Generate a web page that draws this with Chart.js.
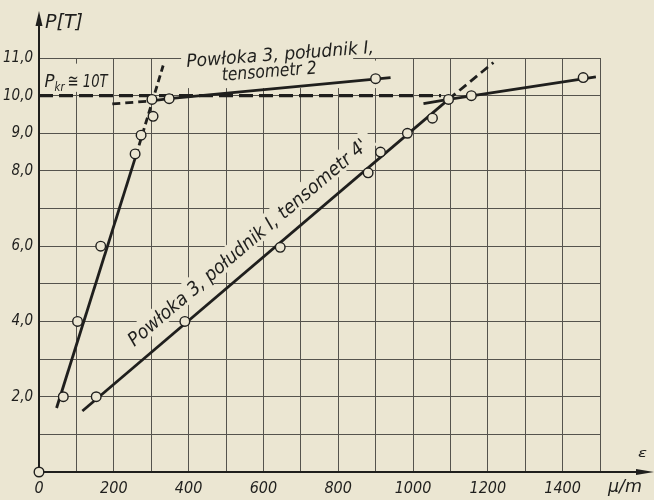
<!DOCTYPE html>
<html>
<head>
<meta charset="utf-8">
<script src="https://cdn.jsdelivr.net/npm/chart.js@4.4.1/dist/chart.umd.min.js"></script>
<style>
  html, body { margin: 0; padding: 0; background: #ebe6d2; }
  canvas { display: block; }
</style>
</head>
<body>
<canvas id="chart" width="654" height="500"></canvas>
<script>
const t2X = [0, 65, 103, 165, 257, 273, 305, 302, 348, 900];
const t2Y = [0, 2.0, 4.0, 6.0, 8.45, 8.95, 9.45, 9.9, 9.92, 10.45];
const t4X = [153, 390, 645, 880, 913, 985, 1052, 1095, 1156, 1455];
const t4Y = [2.0, 4.0, 5.97, 7.95, 8.5, 9.0, 9.4, 9.9, 10.0, 10.48];

// hand drawn fit lines (end points)
const t2SteepX = [47, 259, 332];
const t2SteepY = [1.7, 8.4, 10.8];
const t2FlatX = [196, 300, 348, 940];
const t2FlatY = [9.78, 9.86, 9.92, 10.48];
const t4SteepX = [116, 1095, 1215];
const t4SteepY = [1.62, 9.9, 10.88];
const t4FlatX = [1028, 1095, 1489];
const t4FlatY = [9.79, 9.9, 10.5];
const pkrX = [0, 1075];
const pkrY = [10, 10];

// tick labels
const xLabels = [0, 200, 400, 600, 800, 1000, 1200, 1400];
const yLabels = [2, 4, 6, 8, 9, 10, 11];

const paper = '#ebe6d2';
const ink = '#1f1f1d';
const gridColor = '#55534d';
const narrow = '"Liberation Sans Narrow", "DejaVu Sans Condensed", "Liberation Sans", sans-serif';

const pts = (xs, ys) => xs.map((x, i) => ({ x: x, y: ys[i] }));

function fitText(ctx, text, x, y, width, angle) {
    ctx.save();
    ctx.translate(x, y);
    ctx.rotate(angle || 0);
    const w = ctx.measureText(text).width;
    ctx.scale(width / w, 1);
    ctx.fillText(text, 0, 0);
    ctx.restore();
}

// angle of the tensometr 4' fit line, in pixels
function slopeAngle(chart) {
    const xs = chart.scales.x, ys = chart.scales.y;
    return Math.atan2(ys.getPixelForValue(t4SteepY[1]) - ys.getPixelForValue(t4SteepY[0]),
        xs.getPixelForValue(t4SteepX[1]) - xs.getPixelForValue(t4SteepX[0]));
}

const annotations = {
    id: 'annotations',
    beforeDraw(chart) {
        const c = chart.ctx;
        c.save();
        c.fillStyle = paper;
        c.fillRect(0, 0, chart.width, chart.height);
        c.restore();
    },
    beforeDatasetsDraw(chart) {
        const c = chart.ctx;
        const xs = chart.scales.x, ys = chart.scales.y;
        const box = (x1, y1, x2, y2) => c.fillRect(xs.getPixelForValue(x1), ys.getPixelForValue(y2),
            xs.getPixelForValue(x2) - xs.getPixelForValue(x1), ys.getPixelForValue(y1) - ys.getPixelForValue(y2));
        c.save();
        c.fillStyle = paper;
        // gaps in the grid behind the labels
        box(380, 10.2, 840, 11.3);
        box(840, 10.2, 945, 10.93);
        box(8, 10.1, 195, 10.85);
        // band under the rotated label
        c.translate(xs.getPixelForValue(255), ys.getPixelForValue(3.32));
        c.rotate(slopeAngle(chart));
        c.fillRect(-6, -18, 322, 21);
        c.restore();
    },
    afterDatasetsDraw(chart) {
        const c = chart.ctx;
        const xs = chart.scales.x, ys = chart.scales.y;
        const x0 = xs.getPixelForValue(0), y0 = ys.getPixelForValue(0);
        c.save();
        c.fillStyle = ink;
        c.strokeStyle = ink;
        c.lineWidth = 2;
        // axis extensions with arrows
        c.beginPath();
        c.moveTo(x0, chart.chartArea.top);
        c.lineTo(x0, 20);
        c.moveTo(chart.chartArea.right, y0);
        c.lineTo(642, y0);
        c.stroke();
        c.beginPath();
        c.moveTo(x0, 11); c.lineTo(x0 - 3.5, 26); c.lineTo(x0 + 3.5, 26); c.closePath();
        c.fill();
        c.beginPath();
        c.moveTo(654, y0); c.lineTo(636, y0 - 3); c.lineTo(636, y0 + 3); c.closePath();
        c.fill();

        c.textBaseline = 'alphabetic';
        c.font = 'italic 19px ' + narrow;
        fitText(c, 'P[T]', 45, 28, 38);
        c.font = 'italic 13px ' + narrow;
        fitText(c, 'ε', 638, 457, 9);
        c.font = 'italic 18px ' + narrow;
        fitText(c, 'μ/m', 608, 492, 34);

        // P_kr label
        const px = xs.getPixelForValue(15), py = ys.getPixelForValue(10.24);
        c.font = 'italic 18px ' + narrow;
        fitText(c, 'P', px, py, 10);
        c.font = 'italic 12px ' + narrow;
        fitText(c, 'kr', px + 10, py + 4, 10);
        c.font = 'italic 18px ' + narrow;
        fitText(c, '≅ 10T', px + 23, py, 40);

        // series labels
        const tilt = -0.075;
        c.font = 'italic 18px ' + narrow;
        fitText(c, 'Powłoka 3, południk I,', xs.getPixelForValue(395), ys.getPixelForValue(10.76), 188, tilt);
        fitText(c, 'tensometr 2', xs.getPixelForValue(490), ys.getPixelForValue(10.4), 95, tilt);

        c.font = 'italic 19px ' + narrow;
        fitText(c, "Powłoka 3, południk I, tensometr 4'", xs.getPixelForValue(255), ys.getPixelForValue(3.32), 308, slopeAngle(chart));
        c.restore();
    }
};

const lineSet = (xs, ys, dashFrom, dash) => ({
    type: 'scatter',
    data: pts(xs, ys),
    showLine: true,
    borderColor: ink,
    borderWidth: 2.8,
    pointRadius: 0,
    clip: false,
    order: 2,
    segment: {
        borderDash: s => (dashFrom.includes(s.p0DataIndex) ? dash : undefined)
    }
});

const pointSet = (xs, ys) => ({
    data: pts(xs, ys),
    showLine: false,
    pointRadius: 4.8,
    pointBackgroundColor: paper,
    pointBorderColor: ink,
    pointBorderWidth: 1.4,
    clip: false,
    order: 0
});

const canvas = document.getElementById('chart');
new Chart(canvas.getContext('2d'), {
    type: 'scatter',
    data: {
        datasets: [
            pointSet(t2X, t2Y),
            pointSet(t4X, t4Y),
            lineSet(t2SteepX, t2SteepY, [1], [7, 4]),
            lineSet(t2FlatX, t2FlatY, [0], [8, 5]),
            lineSet(t4SteepX, t4SteepY, [1], [9, 5]),
            lineSet(t4FlatX, t4FlatY, [], []),
            Object.assign(lineSet(pkrX, pkrY, [0], [14, 6]), { borderWidth: 3.2 })
        ]
    },
    options: {
        responsive: false,
        animation: false,
        layout: { padding: { top: 58, right: 54, left: 0, bottom: 0 } },
        plugins: {
            legend: { display: false },
            tooltip: { enabled: false }
        },
        scales: {
            x: {
                type: 'linear',
                min: 0,
                max: 1500,
                afterFit: s => { s.height = 28; },
                border: { color: ink, width: 2 },
                grid: { color: gridColor, lineWidth: 1, drawTicks: false },
                ticks: {
                    stepSize: 100,
                    autoSkip: false,
                    maxRotation: 0,
                    padding: 7,
                    color: ink,
                    font: { family: narrow, size: 16, style: 'italic' },
                    callback: v => (xLabels.includes(v) ? String(v) : '')
                }
            },
            y: {
                min: 0,
                max: 11,
                afterFit: s => { s.width = 39; },
                border: { color: ink, width: 2 },
                grid: { color: gridColor, lineWidth: 1, drawTicks: false },
                ticks: {
                    stepSize: 1,
                    autoSkip: false,
                    padding: 6,
                    color: ink,
                    font: { family: narrow, size: 15, style: 'italic' },
                    callback: v => (yLabels.includes(v) ? v.toFixed(1).replace('.', ',') : '')
                }
            }
        }
    },
    plugins: [annotations]
});
</script>
</body>
</html>
